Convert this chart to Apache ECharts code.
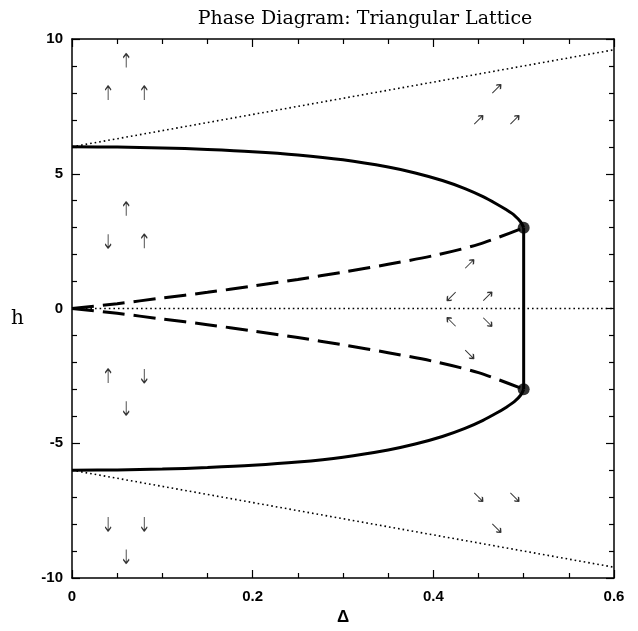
<!DOCTYPE html>
<html>
<head>
<meta charset="utf-8">
<script src="https://cdn.jsdelivr.net/npm/echarts@6/dist/echarts.min.js"></script>
<style>
  html, body { margin: 0; padding: 0; background: #fff; }
  #chart { width: 638px; height: 631px; }
</style>
</head>
<body>
<div id="chart"></div>
<script>
// Saturation boundary (upper branch), from Δ = 0 to the end point at Δ = 0.5
const solidUpper = [
  [0, 6.0], [0.05, 5.99], [0.1, 5.96], [0.15, 5.9], [0.2, 5.82], [0.25, 5.7],
  [0.3, 5.52], [0.35, 5.25], [0.38, 5.03], [0.41, 4.75], [0.435, 4.45],
  [0.455, 4.15], [0.47, 3.88], [0.48, 3.68], [0.49, 3.45], [0.497, 3.2], [0.5, 3.0]
];
const solidLower = [
  [0, -6.0], [0.05, -5.99], [0.1, -5.96], [0.15, -5.9], [0.2, -5.82], [0.25, -5.7],
  [0.3, -5.52], [0.35, -5.25], [0.38, -5.03], [0.41, -4.75], [0.435, -4.45],
  [0.455, -4.15], [0.47, -3.88], [0.48, -3.68], [0.49, -3.45], [0.497, -3.2], [0.5, -3.0]
];
// Inner boundaries (dashed)
const dashedUpper = [
  [0, 0], [0.05, 0.18], [0.1, 0.39], [0.15, 0.6], [0.2, 0.83], [0.25, 1.08],
  [0.3, 1.35], [0.35, 1.64], [0.4, 1.96], [0.45, 2.38], [0.5, 3.0]
];
const dashedLower = [
  [0, 0], [0.05, -0.18], [0.1, -0.39], [0.15, -0.6], [0.2, -0.83], [0.25, -1.08],
  [0.3, -1.35], [0.35, -1.64], [0.4, -1.96], [0.45, -2.38], [0.5, -3.0]
];
// First-order line at Δ = 0.5 and its end points
const verticalLine = [[0.5, -3.0], [0.5, 3.0]];
const endPoints = [[0.5, 3.0], [0.5, -3.0]];
// Dotted guide lines
const dottedUpper = [[0, 6.0], [0.6, 9.6]];
const dottedLower = [[0, -6.0], [0.6, -9.6]];
const dottedZero = [[0, 0], [0.6, 0]];

// Spin arrows: [Δ, h, direction]
const arrows = [
  [0.06, 9.2, 'N'], [0.04, 8.0, 'N'], [0.08, 8.0, 'N'],
  [0.06, 3.7, 'N'], [0.04, 2.5, 'S'], [0.08, 2.5, 'N'],
  [0.04, -2.5, 'N'], [0.08, -2.5, 'S'], [0.06, -3.7, 'S'],
  [0.04, -8.0, 'S'], [0.08, -8.0, 'S'], [0.06, -9.2, 'S'],
  [0.47, 8.15, 'NE'], [0.45, 7.0, 'NE'], [0.49, 7.0, 'NE'],
  [0.44, 1.65, 'NE'], [0.42, 0.45, 'SW'], [0.46, 0.45, 'NE'],
  [0.42, -0.5, 'NW'], [0.46, -0.5, 'SE'], [0.44, -1.7, 'SE'],
  [0.45, -7.0, 'SE'], [0.49, -7.0, 'SE'], [0.47, -8.15, 'SE']
];
const arrowRotation = { N: 0, S: 180, NE: -45, NW: 45, SE: -135, SW: 135 };

const xTicks = { min: 0, max: 0.6, interval: 0.2 };
const yTicks = { min: -10, max: 10, interval: 5 };

const ARROW_PATH = 'path://M5,0 L5,24 M5,0 L1.5,7 M5,0 L8.5,7';

const frameLine = { show: true, onZero: false, lineStyle: { color: '#000', width: 1.5 } };
const labelFont = { color: '#000', fontFamily: 'Liberation Sans', fontSize: 15, fontWeight: 'bold' };

function xAxisDef(pos, showLabels) {
  return {
    type: 'value', position: pos, min: xTicks.min, max: xTicks.max, interval: xTicks.interval,
    axisLine: frameLine,
    axisTick: { show: true, inside: true, length: 8, lineStyle: { color: '#000', width: 1.2 } },
    minorTick: { show: true, splitNumber: 4, length: 5, lineStyle: { color: '#000', width: 1.2 } },
    splitLine: { show: false },
    axisLabel: Object.assign({ show: showLabels, margin: 11 }, labelFont),
    name: pos === 'bottom' ? 'Δ' : '',
    nameLocation: 'middle', nameGap: 31,
    nameTextStyle: { color: '#000', fontFamily: 'Liberation Sans', fontSize: 17, fontWeight: 'bold' }
  };
}
function yAxisDef(pos, showLabels) {
  return {
    type: 'value', position: pos, min: yTicks.min, max: yTicks.max, interval: yTicks.interval,
    axisLine: frameLine,
    axisTick: { show: true, inside: true, length: 8, lineStyle: { color: '#000', width: 1.2 } },
    minorTick: { show: true, splitNumber: 5, length: 5, lineStyle: { color: '#000', width: 1.2 } },
    splitLine: { show: false },
    axisLabel: Object.assign({ show: showLabels, margin: 9 }, labelFont),
    name: pos === 'left' ? 'h' : '',
    nameLocation: 'middle', nameGap: 48, nameRotate: 0,
    nameTextStyle: { color: '#000', fontFamily: 'DejaVu Serif', fontSize: 20, verticalAlign: 'top' }
  };
}

function lineSeries(data, width, type, smooth) {
  return {
    type: 'line', data: data, showSymbol: false, smooth: smooth || false, silent: true,
    lineStyle: { color: '#000', width: width, type: type }, z: 3
  };
}

const chart = echarts.init(document.getElementById('chart'), null, { renderer: 'canvas' });
chart.setOption({
  animation: false,
  backgroundColor: '#fff',
  title: {
    text: 'Phase Diagram: Triangular Lattice', left: 360, top: 5, textAlign: 'center',
    textStyle: { color: '#000', fontFamily: 'DejaVu Serif', fontSize: 19, fontWeight: 'normal' }
  },
  grid: { left: 72, right: 24, top: 39, bottom: 53 },
  xAxis: [xAxisDef('bottom', true), xAxisDef('top', false)],
  yAxis: [yAxisDef('left', true), yAxisDef('right', false)],
  series: [
    lineSeries(dottedUpper, 1.6, [1.6, 3]),
    lineSeries(dottedLower, 1.6, [1.6, 3]),
    lineSeries(dottedZero, 1.6, [1.6, 3]),
    lineSeries(solidUpper, 3, 'solid', 0.3),
    lineSeries(solidLower, 3, 'solid', 0.3),
    lineSeries(dashedUpper, 3, [22, 9], 0.3),
    lineSeries(dashedLower, 3, [22, 9], 0.3),
    lineSeries(verticalLine, 3, 'solid'),
    {
      type: 'scatter', data: endPoints, symbol: 'circle', symbolSize: 12,
      itemStyle: { color: '#000' }, z: 5, silent: true
    },
    {
      type: 'scatter', silent: true, z: 4,
      data: arrows.map(a => ({
        value: [a[0], a[1]],
        symbolRotate: arrowRotation[a[2]],
        symbolSize: a[2].length === 1 ? [6, 14] : [6, 12]
      })),
      symbol: ARROW_PATH, symbolKeepAspect: false,
      itemStyle: { color: 'rgba(0,0,0,0)', borderColor: '#000', borderWidth: 1.3 }
    }
  ]
});
</script>
</body>
</html>
